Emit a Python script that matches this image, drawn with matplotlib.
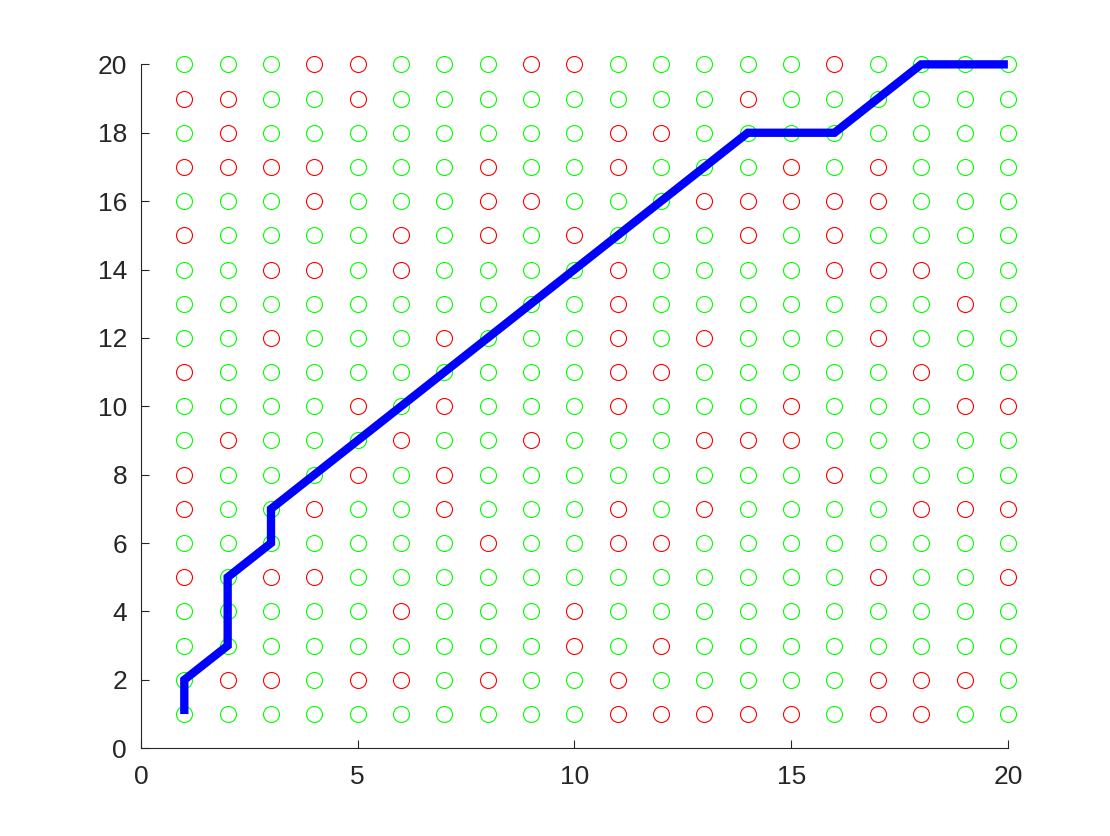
import numpy as np
import matplotlib
matplotlib.use("Agg")
import matplotlib.pyplot as plt

# grid size
n = 20

# red cells per row (y value -> list of x values), everything else is green
red_cells = {
    20: [4, 5, 9, 10, 16],
    19: [1, 2, 5, 14],
    18: [2, 11, 12],
    17: [1, 2, 3, 4, 8, 11, 15, 17],
    16: [4, 8, 9, 13, 14, 15, 16, 17],
    15: [1, 6, 8, 10, 14, 16],
    14: [3, 4, 6, 11, 16, 17, 18],
    13: [11, 19],
    12: [3, 7, 11, 13, 17],
    11: [1, 11, 12, 18],
    10: [5, 7, 11, 15, 19, 20],
    9: [2, 6, 9, 13, 14, 15],
    8: [1, 5, 7, 16],
    7: [1, 4, 7, 11, 13, 18, 19, 20],
    6: [8, 11, 12],
    5: [1, 3, 4, 17, 20],
    4: [6, 10],
    3: [10, 12],
    2: [2, 3, 5, 6, 8, 11, 17, 18, 19],
    1: [11, 12, 13, 14, 15, 17, 18],
}

# path
path_x = [1, 1, 2, 2, 2, 3, 3, 4, 5, 6, 7, 8, 9, 10, 11, 12, 13, 14, 15, 16, 17, 18, 19, 20]
path_y = [1, 2, 3, 4, 5, 6, 7, 8, 9, 10, 11, 12, 13, 14, 15, 16, 17, 18, 18, 18, 19, 20, 20, 20]

red_x, red_y, green_x, green_y = [], [], [], []
for y in range(1, n + 1):
    for x in range(1, n + 1):
        if x in red_cells.get(y, []):
            red_x.append(x)
            red_y.append(y)
        else:
            green_x.append(x)
            green_y.append(y)

fig = plt.figure(figsize=(11.1, 8.36), dpi=100)
ax = fig.add_axes([0.127, 0.105, 0.781, 0.818])

ax.plot(green_x, green_y, 'o', mfc='none', mec='#00ff00', ms=11.5, mew=0.8, ls='none', clip_on=False)
ax.plot(red_x, red_y, 'o', mfc='none', mec='#ff0000', ms=11.5, mew=0.8, ls='none', clip_on=False)
ax.plot(path_x, path_y, color='#0000ff', lw=6, solid_capstyle='butt', solid_joinstyle='miter', clip_on=False)

ax.set_xlim(0, 20)
ax.set_ylim(0, 20)
ax.set_xticks([0, 5, 10, 15, 20])
ax.set_yticks(np.arange(0, 21, 2))

for side in ['top', 'right']:
    ax.spines[side].set_visible(False)
for side in ['left', 'bottom']:
    ax.spines[side].set_color('#262626')
    ax.spines[side].set_linewidth(0.8)
ax.tick_params(direction='in', length=6, width=0.8, colors='#262626',
               labelsize=19)
ax.tick_params(axis='x', pad=12)
ax.tick_params(axis='y', pad=10)
for lbl in ax.get_xticklabels() + ax.get_yticklabels():
    lbl.set_family(['Liberation Sans', 'DejaVu Sans'])

fig.savefig('out.png', dpi=100, facecolor='white')
